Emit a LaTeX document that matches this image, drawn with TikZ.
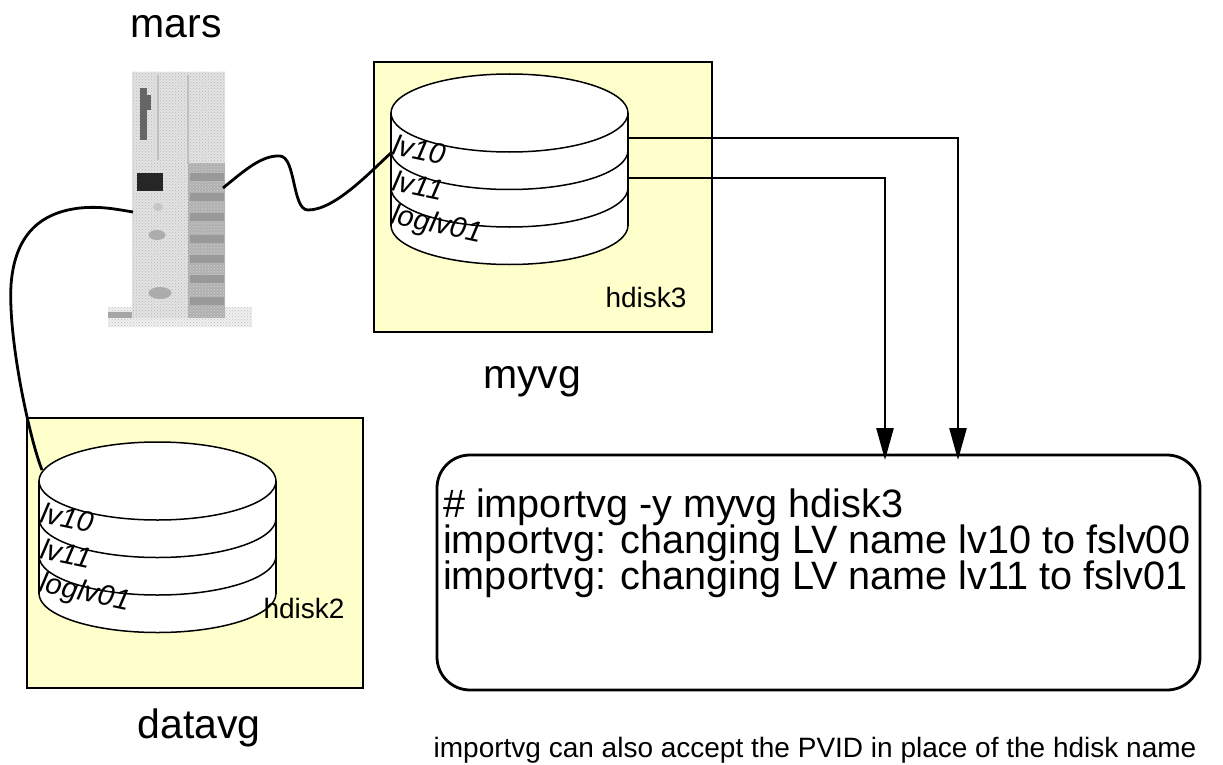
\documentclass[tikz,border=0pt]{standalone}
\usepackage{fontspec}
\setmainfont{Liberation Sans}
\usetikzlibrary{arrows.meta,patterns}

\definecolor{vgyellow}{RGB}{255,255,204}

% one disk: #1 = left edge x, #2 = y of the top rim
\newcommand{\vgdisk}[2]{%
  \fill[white] (#1,#2) -- (#1,#2+112.5)
    arc[start angle=180, end angle=0, x radius=118.5, y radius=39]
    -- (#1+237,#2)
    arc[start angle=0, end angle=-180, x radius=118.5, y radius=39] -- cycle;
  \draw[diskline] (#1+118.5,#2) ellipse[x radius=118.5, y radius=39];
  \draw[diskline] (#1,#2) -- (#1,#2+112.5) (#1+237,#2) -- (#1+237,#2+112.5);
  \foreach \k in {1,2,3}
    \draw[diskline] (#1,#2+37.5*\k)
      arc[start angle=180, end angle=0, x radius=118.5, y radius=39];
  \node[lvtext] at (#1+2,#2+31) {lv10};
  \node[lvtext] at (#1+2,#2+67) {lv11};
  \node[lvtext] at (#1+1,#2+103) {loglv01};
}

\begin{document}
\begin{tikzpicture}[x=1pt, y=-1pt,
    vgbox/.style={draw, fill=vgyellow, line width=2.8pt},
    diskline/.style={line width=1.5pt},
    lvtext/.style={anchor=west, inner sep=0pt, rotate=-12,
      font=\fontsize{29}{30}\selectfont\itshape},
    bigtext/.style={anchor=base, font=\fontsize{41}{48}\selectfont},
    disklabel/.style={anchor=base, font=\fontsize{28}{32}\selectfont},
    cmdline/.style={anchor=base west, inner sep=0pt,
      font=\fontsize{39.6}{36}\selectfont},
    cable/.style={line width=2.8pt},
    flow/.style={line width=2.6pt, -{Triangle[length=32pt, width=17pt]}},
    cmdbox/.style={draw, line width=2.8pt, rounded corners=33pt,
      minimum width=763pt, minimum height=235pt, inner sep=0pt}]
\useasboundingbox (0,0) rectangle (1223,765);

% 1. volume groups
\draw[vgbox] (374,62) rectangle (712,332);
\vgdisk{391}{113}
\node[disklabel] (hd3) at (646,307) {hdisk3};
\draw[vgbox] (27,418) rectangle (363,688);
\vgdisk{39}{481}
\node[disklabel] (hd2) at (304,618) {hdisk2};

\node[bigtext] (mars) at (176,38) {mars};
\node[bigtext] (myvg) at (532,388) {myvg};
\node[bigtext] (datavg) at (199,738) {datavg};

% 2. the server
\fill[gray!12] (108,307) rectangle (252,327);
\fill[pattern=crosshatch dots, pattern color=gray!50] (108,307) rectangle (252,327);
\fill[gray!70] (108,312) rectangle (132,318);
\fill[gray!22] (132,72) rectangle (225,318);
\fill[pattern=crosshatch dots, pattern color=gray!55] (132,72) rectangle (225,318);
\fill[gray!62] (188,163) rectangle (225,318);
\fill[pattern=crosshatch dots, pattern color=gray!35] (188,163) rectangle (225,318);
\foreach \yy in {173,193,213,235,255,275,297}
  \fill[gray!80] (190,\yy) rectangle (224,\yy+8);
\draw[gray!50, line width=1.5pt] (158,75) -- (158,160) (188,75) -- (188,163);
\fill[gray!80!black] (140,88) rectangle (147,140);
\fill[gray!80!black] (147,95) rectangle (151,110);
\fill[black!85] (137,173) rectangle (163,191);
\fill[gray!45] (158,207) ellipse[x radius=5, y radius=4];
\fill[gray!65] (157,235) ellipse[x radius=8.5, y radius=5];
\fill[gray!65] (160,293) ellipse[x radius=11.5, y radius=6];

% 3. cables
\coordinate (srvR) at (223,188);
\coordinate (srvL) at (133,212);
\coordinate (disk3in) at (392,152);
\coordinate (disk2in) at (42,470);
\draw[cable] (srvR) .. controls (245,170) and (262,155) .. (280,156)
  .. controls (296,157) and (292,210) .. (308,210)
  .. controls (335,210) and (370,172) .. (disk3in);
\draw[cable] (srvL) .. controls (115,209) and (100,206) .. (80,208)
  .. controls (45,212) and (15,230) .. (11,285)
  .. controls (8,340) and (30,440) .. (disk2in);

% 4. importvg output
\node[cmdbox] (cmd) at (818.5,572.5) {};
\node[cmdline] (cmd1) at (443,517) {\# importvg -y myvg hdisk3};
\node[cmdline] (cmd2) at (443,553) {importvg: changing LV name lv10 to fslv00};
\node[cmdline] (cmd3) at (443,589) {importvg: changing LV name lv11 to fslv01};
\node[anchor=base, font=\fontsize{28}{32}\selectfont] (note) at (815,757)
  {importvg can also accept the PVID in place of the hdisk name};

\coordinate (lv10out) at (628,138);
\coordinate (lv11out) at (628,178);
\coordinate (tip10) at (958,460);
\coordinate (tip11) at (885,460);
\draw[flow] (lv10out) -| (tip10);
\draw[flow] (lv11out) -| (tip11);
\end{tikzpicture}
\end{document}
